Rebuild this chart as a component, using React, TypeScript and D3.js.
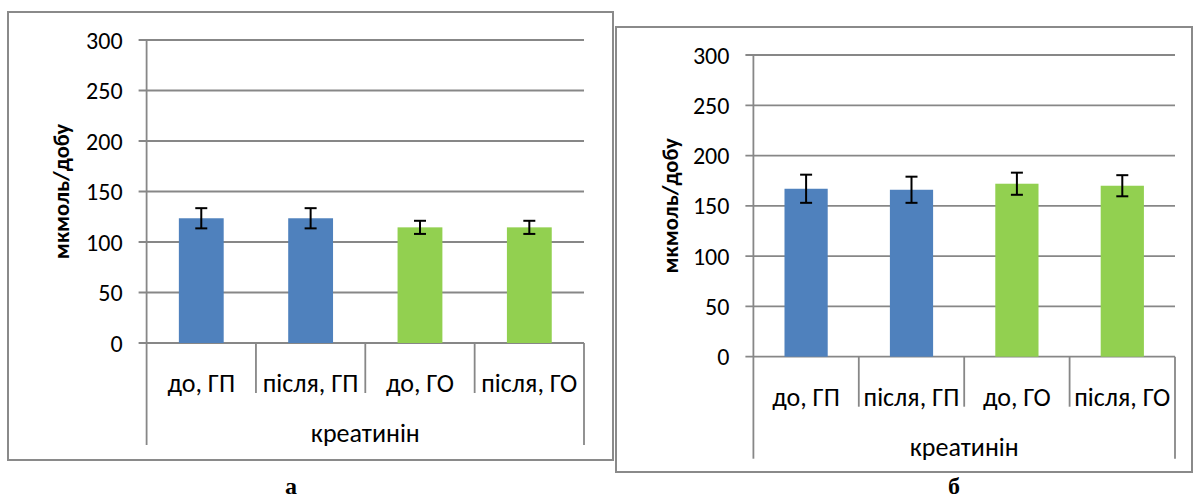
import React from 'react';
import * as d3 from 'd3';

const categories = ['до, ГП', 'після, ГП', 'до, ГО', 'після, ГО'];
const groupLabel = 'креатинін';
const yTicks = [0, 50, 100, 150, 200, 250, 300];
const barColors = ['#4F81BD', '#4F81BD', '#92D050', '#92D050'];

// панель а
const valuesA = [123.5, 123.5, 114.5, 114.5];
const errorsA = [10, 10, 6.5, 6.5];
// панель б
const valuesB = [167, 166, 172, 170];
const errorsB = [14, 13, 11, 10.5];

const FONT = 'Carlito, Calibri, Lato, "Open Sans", sans-serif';
const GRID = '#878787';

type PanelProps = {
  box: [number, number, number, number];
  left: number;
  right: number;
  bottom: number;
  top: number;
  values: number[];
  errors: number[];
  titleX: number;
};

function Panel({ box, left, right, bottom, top, values, errors, titleX }: PanelProps) {
  const x = d3.scaleBand<string>().domain(categories).range([left, right]).paddingInner(0).paddingOuter(0);
  const y = d3.scaleLinear().domain([0, 300]).range([bottom, top]);
  const bw = x.bandwidth() * 0.41;
  const edges = categories.map(c => x(c) as number).concat([right]);

  return (
    <g>
      <rect x={box[0]} y={box[1]} width={box[2] - box[0]} height={box[3] - box[1]} fill="white" stroke="#8a8a8a" strokeWidth={2} />
      {yTicks.map(t => (
        <g key={t}>
          <line x1={left - 8} x2={right} y1={y(t)} y2={y(t)} stroke={GRID} strokeWidth={1.8} />
          <text x={left - 24} y={y(t)} dy="0.36em" textAnchor="end" fontSize={24} fontFamily={FONT} fill="#000">{t}</text>
        </g>
      ))}
      <line x1={left} x2={left} y1={top} y2={bottom} stroke={GRID} strokeWidth={1.8} />
      {values.map((v, i) => {
        const cx = (x(categories[i]) as number) + x.bandwidth() / 2;
        return (
          <g key={i}>
            <rect x={cx - bw / 2} y={y(v)} width={bw} height={bottom - y(v)} fill={barColors[i]} />
            <line x1={cx} x2={cx} y1={y(v + errors[i])} y2={y(v - errors[i])} stroke="#000" strokeWidth={2} />
            <line x1={cx - 6} x2={cx + 6} y1={y(v + errors[i])} y2={y(v + errors[i])} stroke="#000" strokeWidth={2} />
            <line x1={cx - 6} x2={cx + 6} y1={y(v - errors[i])} y2={y(v - errors[i])} stroke="#000" strokeWidth={2} />
          </g>
        );
      })}
      {edges.map((e, i) => (
        <line key={i} x1={e} x2={e} y1={bottom} y2={i === 0 || i === edges.length - 1 ? bottom + 102 : bottom + 50} stroke={GRID} strokeWidth={1.8} />
      ))}
      {categories.map(c => (
        <text key={c} x={(x(c) as number) + x.bandwidth() / 2} y={bottom + 40} dy="0.36em" textAnchor="middle" fontSize={26} fontFamily={FONT} fill="#000">{c}</text>
      ))}
      <text x={(left + right) / 2} y={bottom + 90} dy="0.36em" textAnchor="middle" fontSize={26} fontFamily={FONT} fill="#000">{groupLabel}</text>
      <text transform={`translate(${titleX},${(top + bottom) / 2}) rotate(-90)`} dy="0.36em" textAnchor="middle" fontSize={22.5} fontWeight="bold" fontFamily={FONT} fill="#000">мкмоль/добу</text>
    </g>
  );
}

export default function App() {
  return (
    <svg width={1194} height={500} style={{ position: 'absolute', left: 0, top: 0, background: '#fff' }}>
      <Panel box={[8, 12, 613, 460]} left={146.6} right={584} bottom={343} top={40} values={valuesA} errors={errorsA} titleX={61} />
      <Panel box={[616, 27, 1192, 472]} left={753.4} right={1175} bottom={356.7} top={55} values={valuesB} errors={errorsB} titleX={670} />
      <text x={291} y={494} textAnchor="middle" fontSize={24} fontWeight="bold" fontFamily='"Liberation Serif", "Times New Roman", serif'>а</text>
      <text x={954} y={494} textAnchor="middle" fontSize={24} fontWeight="bold" fontFamily='"Liberation Serif", "Times New Roman", serif'>б</text>
    </svg>
  );
}
